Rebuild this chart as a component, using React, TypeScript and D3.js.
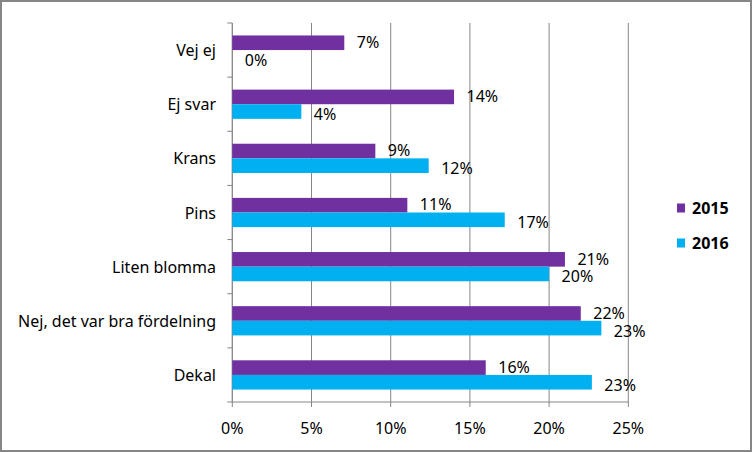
import React from "react";
import * as d3 from "d3";

const categories = ["Vej ej", "Ej svar", "Krans", "Pins", "Liten blomma", "Nej, det var bra fördelning", "Dekal"];
const series2015 = [0.0707, 0.14, 0.0903, 0.1105, 0.21, 0.22, 0.16];
const series2016 = [0.0, 0.0436, 0.124, 0.172, 0.2, 0.233, 0.227];
const seriesNames = ["2015", "2016"];
const seriesColors = ["#7030A0", "#00B0F0"];
const xTicks = [0, 0.05, 0.1, 0.15, 0.2, 0.25];

const W = 752;
const H = 452;
const FONT = "'Noto Sans', 'Open Sans', sans-serif";
const FS = 16;

export default function App() {
  const x = d3.scaleLinear().domain([0, 0.25]).range([232.3, 628.3]);
  const y = d3.scaleBand<string>().domain(categories).range([23, 402]).paddingInner(0.46).paddingOuter(0.23);
  const inner = d3.scaleBand<string>().domain(seriesNames).range([0, y.bandwidth()]);
  const all = [series2015, series2016];
  const fmt = d3.format(".0%");

  return (
    <svg width={W} height={H} style={{ position: "absolute", left: 0, top: 0, background: "#fff" }} fontFamily={FONT}>
      <rect x={1} y={1} width={W - 2} height={H - 2} fill="#fff" stroke="#868686" strokeWidth={2} />
      {/* gridlines */}
      {xTicks.map((t) => (
        <line key={"g" + t} x1={x(t)} x2={x(t)} y1={23} y2={407} stroke="#868686" strokeWidth={1} />
      ))}
      {/* x axis */}
      <line x1={x(0)} x2={x(0.25)} y1={402} y2={402} stroke="#868686" />
      {xTicks.map((t) => (
        <text key={"t" + t} x={x(t)} y={428} textAnchor="middle" dominantBaseline="central" fontSize={FS} fill="#000">
          {fmt(t)}
        </text>
      ))}
      {/* y axis */}
      <line x1={x(0)} x2={x(0)} y1={23} y2={402} stroke="#868686" />
      {d3.range(categories.length + 1).map((i) => {
        const yy = 23 + (i * (402 - 23)) / categories.length;
        return <line key={"yt" + i} x1={x(0) - 5} x2={x(0)} y1={yy} y2={yy} stroke="#868686" />;
      })}
      {categories.map((c) => (
        <text key={"c" + c} x={216} y={(y(c) as number) + y.bandwidth() / 2} textAnchor="end" dominantBaseline="central" fontSize={FS} fill="#000">
          {c}
        </text>
      ))}
      {/* bars */}
      {all.map((s, si) =>
        s.map((v, i) => {
          const c = categories[i];
          const yy = (y(c) as number) + (inner(seriesNames[si]) as number);
          return (
            <g key={si + "-" + i}>
              <rect x={x(0)} y={yy} width={x(v) - x(0)} height={inner.bandwidth()} fill={seriesColors[si]} />
              <text x={x(v) + 12.5} y={yy + inner.bandwidth() / 2 + (si === 1 ? 2.5 : -0.8)} dominantBaseline="central" fontSize={FS} fill="#000">
                {fmt(v)}
              </text>
            </g>
          );
        })
      )}
      {/* legend */}
      {seriesNames.map((n, i) => (
        <g key={"l" + n} transform={`translate(677, ${208 + i * 35})`}>
          <rect x={0} y={-4.5} width={8} height={9} fill={seriesColors[i]} />
          <text x={15} y={0} dominantBaseline="central" fontSize={FS} fontWeight="bold" fill="#000">
            {n}
          </text>
        </g>
      ))}
    </svg>
  );
}
